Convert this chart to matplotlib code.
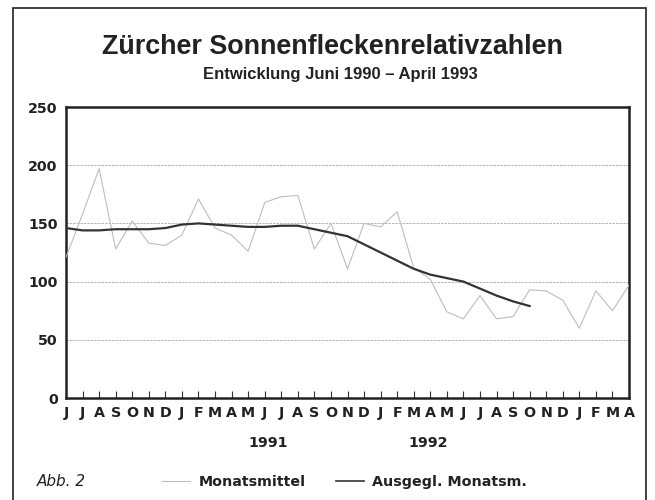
import matplotlib
matplotlib.use('Agg')
import matplotlib.pyplot as plt
from matplotlib.lines import Line2D
from matplotlib.patches import Rectangle

# Monate Juni 1990 - April 1993
monate = ['J', 'J', 'A', 'S', 'O', 'N', 'D',
          'J', 'F', 'M', 'A', 'M', 'J', 'J', 'A', 'S', 'O', 'N', 'D',
          'J', 'F', 'M', 'A', 'M', 'J', 'J', 'A', 'S', 'O', 'N', 'D',
          'J', 'F', 'M', 'A']

# Monatsmittel
monatsmittel = [121, 158, 197, 128, 152, 133, 131,
                140, 171, 146, 140, 126, 168, 173, 174, 128, 150, 111, 150,
                147, 160, 112, 102, 74, 68, 88, 68, 70, 93, 92, 84,
                60, 92, 75, 97]

# ausgeglichene Monatsmittel (nur bis Oktober 1992)
ausgeglichen = [146, 144, 144, 145, 145, 145, 146,
                149, 150, 149, 148, 147, 147, 148, 148, 145, 142, 139, 132,
                125, 118, 111, 106, 103, 100, 94, 88, 83, 79]

jahre = ['1991', '1992']
jahr_pos = [12.2, 21.9]

y_ticks = [0, 50, 100, 150, 200, 250]

titel = 'Zürcher Sonnenfleckenrelativzahlen'
untertitel = 'Entwicklung Juni 1990 – April 1993'

schrift = 10.3  # Achsen- und Legendenschrift
farbe = '#222222'

fig = plt.figure(figsize=(6.55, 5.0), dpi=100)
ax = fig.add_axes([66 / 655, 1 - 398 / 500, 563 / 655, 291 / 500])

x1 = list(range(len(monatsmittel)))
x2 = list(range(len(ausgeglichen)))
ax.plot(x1, monatsmittel, color='#bdbdbd', lw=0.8, zorder=3)
ax.plot(x2, ausgeglichen, color='#333333', lw=1.6, zorder=4, solid_joinstyle='round')

ax.set_xlim(0, len(monate) - 1)
ax.set_ylim(0, 250)
ax.set_xticks(x1)
ax.set_xticklabels(monate, fontweight='bold')
ax.set_yticks(y_ticks)
ax.set_yticklabels([str(v) for v in y_ticks], fontweight='bold')

ax.tick_params(axis='x', direction='in', length=5, width=0.8, color='#333333',
               labelsize=schrift, pad=6, labelcolor=farbe)
ax.tick_params(axis='y', length=0, labelsize=schrift, pad=6, labelcolor=farbe)

for v in y_ticks[1:-1]:
    ax.axhline(v, color='#a8a8a8', lw=0.6, ls=(0, (3, 1.2)), zorder=1)

for s in ax.spines.values():
    s.set_linewidth(1.8)
    s.set_color(farbe)

# Jahreszahlen unter der Achse
for j, p in zip(jahre, jahr_pos):
    ax.text(p, -0.155, j, transform=ax.get_xaxis_transform(), ha='center', va='center',
            fontsize=schrift, fontweight='bold', color=farbe)

# Titel
fig.text(0.507, 1 - 47 / 500, titel, ha='center', va='center', fontsize=19.4,
         fontweight='bold', family=['Liberation Sans Narrow', 'Liberation Sans'], color=farbe)
fig.text(0.519, 1 - 75 / 500, untertitel, ha='center', va='center', fontsize=12,
         fontweight='bold', family=['Liberation Sans Narrow', 'Liberation Sans'], color=farbe)

# Legende
fig.text(37 / 655, 1 - 482 / 500, 'Abb. 2', ha='left', va='center', fontsize=11,
         style='italic', color=farbe)
h1 = Line2D([], [], color='#bdbdbd', lw=0.8)
h2 = Line2D([], [], color='#333333', lw=1.2)
leg = fig.legend([h1, h2], ['Monatsmittel', 'Ausgegl. Monatsm.'], ncol=2, frameon=False,
                 loc='center left', bbox_to_anchor=(149 / 655, 1 - 482 / 500),
                 prop={'size': schrift, 'weight': 'bold'},
                 handlelength=2.0, handletextpad=0.56, columnspacing=2.1)
for t in leg.get_texts():
    t.set_color(farbe)

# Rahmen um die ganze Grafik
fig.patches.append(Rectangle((13 / 655, -0.1), 633 / 655, 1.1 - 8 / 500, fill=False,
                             edgecolor='#333333', lw=1.3, transform=fig.transFigure))

fig.savefig('out.png', dpi=100)
